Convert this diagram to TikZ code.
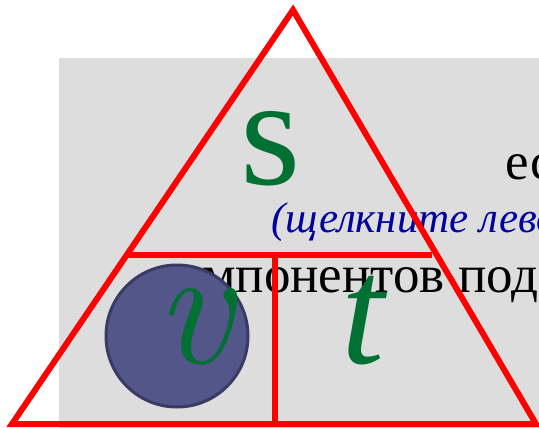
\documentclass[tikz,border=0pt]{standalone}
\usepackage{fontspec}
\setmainfont{Liberation Serif}
\newfontfamily\lmfont{Latin Modern Roman}
\usepackage{xcolor}
\usetikzlibrary{positioning}
\definecolor{slidegray}{HTML}{DDDDDD}
\definecolor{letgreen}{HTML}{007033}
\definecolor{hintblue}{HTML}{0000A0}
\definecolor{ballfill}{HTML}{535689}
\definecolor{balledge}{HTML}{393B64}
\tikzset{
  edge/.style={draw=red,line width=6pt},
  bgtext/.style={inner sep=0pt,anchor=base west,font=\fontsize{53}{53}\selectfont},
  letter/.style={inner sep=0pt,anchor=base,text=letgreen,font=\fontsize{155}{155}\selectfont}
}

\begin{document}
\begin{tikzpicture}[x=1pt,y=-1pt]
  \useasboundingbox (0,0) rectangle (539,428);
  \clip (0,0) rectangle (539,428);
  % slide background
  \fill[slidegray] (59,58) rectangle (539,428);
  \node[bgtext] (esli) at (505,179) {есл};
  \node[bgtext,text=hintblue,font=\fontsize{43}{43}\selectfont\itshape] (hint) at (271,233) {(щелкните левой};
  \node[bgtext] (komp) at (202,292) {мпонентов подо};
  % triangle
  \coordinate (apex) at (293,10);
  \coordinate (bl) at (12,424);
  \coordinate (br) at (536,424);
  \coordinate (ml) at (126,255);
  \coordinate (mr) at (432,255);
  \coordinate (mt) at (275,255);
  \coordinate (mb) at (275,424);
  \draw[edge] (apex) -- (br) -- (bl) -- cycle;
  \draw[edge] (ml) -- (mr);
  \draw[edge] (mt) -- (mb);
  % highlighted ball
  \node[circle,fill=ballfill,draw=balledge,line width=3pt,minimum size=142pt,inner sep=0pt] (ball) at (177,336) {};
  % letters
  \node[letter] (s) at (271,185) {s};
  \node[letter,font=\fontsize{170}{170}\selectfont\lmfont\itshape] (v) at (194,363) {v};
  \node[letter,font=\fontsize{155}{155}\selectfont\itshape] (t) at (363,363) {t};
\end{tikzpicture}
\end{document}
